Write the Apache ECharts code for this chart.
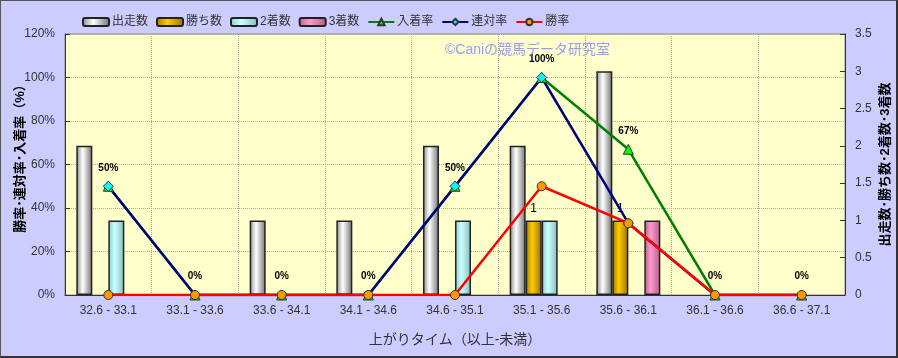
<!DOCTYPE html>
<html><head><meta charset="utf-8">
<script src="https://cdn.jsdelivr.net/npm/echarts@6/dist/echarts.min.js"></script>
<style>
html,body{margin:0;padding:0;background:#CCCCFF;}
#wrap{width:898px;height:358px;box-sizing:border-box;border:1px solid #555;border-right:2px solid #333;border-bottom:2px solid #333;background:#CCCCFF;}
#c{width:895px;height:355px;}
</style></head>
<body><div id="wrap"><div id="c"></div></div>
<script>
const categories = ['32.6 - 33.1','33.1 - 33.6','33.6 - 34.1','34.1 - 34.6','34.6 - 35.1','35.1 - 35.6','35.6 - 36.1','36.1 - 36.6','36.6 - 37.1'];
const starts   = [2,0,1,1,2,2,3,0,0];
const wins     = [0,0,0,0,0,1,1,0,0];
const seconds  = [1,0,0,0,1,1,0,0,0];
const thirds   = [0,0,0,0,0,0,1,0,0];
const placeRate = [50,0,0,0,50,100,67,0,0];
const quinRate  = [50,0,0,0,50,100,33,0,0];
const winRate   = [0,0,0,0,0,50,33,0,0];
const leftTicks = [0,20,40,60,80,100,120];
const rightTicks = [0,0.5,1,1.5,2,2.5,3,3.5];

const FONT = '"Liberation Sans","Noto Sans CJK JP",sans-serif';
function grad(a,b,c){
  return {type:'linear',x:0,y:0,x2:1,y2:0,colorStops:[{offset:0,color:a},{offset:0.4,color:b},{offset:1,color:c}]};
}
const chart = echarts.init(document.getElementById('c'));
const nz = arr => arr.map(v => v === 0 ? '-' : v);
function barSeries(name, data, color, label){
  return {
    name, type:'bar', yAxisIndex:1, data:nz(data), barWidth:16, barGap:'0%',
    itemStyle:{color, borderColor:'#222', borderWidth:1.5},
    label: label ? {show:true, position:'top', distance:6, color:'#000', fontSize:12, fontFamily:FONT} : {show:false},
    z:2
  };
}
function lineSeries(name, data, color, symbol, symColor, size, label){
  return {
    name, type:'line', yAxisIndex:0, data, symbol, symbolSize:size,
    lineStyle:{color, width:2.5},
    itemStyle:{color:symColor, borderColor:'#333', borderWidth:1},
    label: label ? {show:true, position:'top', distance:8, formatter:'{c}%', color:'#000', fontSize:10, fontWeight:'bold', fontFamily:FONT} : {show:false},
    z:5
  };
}
chart.setOption({
  animation:false,
  backgroundColor:'#CCCCFF',
  textStyle:{fontFamily:FONT},
  legend:{
    left:76, top:10, itemWidth:26, itemHeight:8, itemGap:8,
    textStyle:{fontSize:12, color:'#333', fontFamily:FONT, padding:[0,0,0,-2]}
  },
  graphic:[{type:'text', left:444, top:42, style:{text:'©Caniの競馬データ研究室', fill:'#9999FF', font:'14px '+FONT}, z:10}],
  grid:{left:64, right:51, top:33, bottom:61, containLabel:false, outerBoundsMode:'none', show:true, backgroundColor:'#FFFFCC', borderColor:'#888', borderWidth:1},
  xAxis:{
    type:'category', data:categories,
    name:'上がりタイム（以上-未満）', nameLocation:'middle', nameGap:38, nameMoveOverlap:false,
    nameTextStyle:{fontSize:14, color:'#333', fontFamily:FONT},
    axisLine:{lineStyle:{color:'#333'}},
    axisTick:{show:false},
    axisLabel:{fontSize:12, color:'#333', margin:10},
    splitLine:{show:true, lineStyle:{color:'#aaa', type:'dotted', width:1}}
  },
  yAxis:[{
    type:'value', min:0, max:120, interval:20, position:'left',
    name:'勝率･連対率･入着率（%）', nameLocation:'middle', nameGap:38, nameRotate:90, nameMoveOverlap:false,
    nameTextStyle:{fontSize:13, fontWeight:'bold', color:'#000', fontFamily:FONT, padding:[0,0,0,18]},
    axisLine:{show:true, lineStyle:{color:'#333'}},
    axisTick:{show:true, inside:true, length:5, lineStyle:{color:'#333'}},
    axisLabel:{formatter: v => leftTicks.includes(v) ? v+'%' : '', fontSize:12, color:'#333', margin:10},
    splitLine:{show:true, lineStyle:{color:'#aaa', type:'dotted'}}
  },{
    type:'value', min:0, max:3.5, interval:0.5, position:'right',
    name:'出走数･勝ち数･2着数･3着数', nameLocation:'middle', nameGap:34, nameRotate:90, nameMoveOverlap:false,
    nameTextStyle:{fontSize:13, fontWeight:'bold', color:'#000', fontFamily:FONT},
    axisLine:{show:true, lineStyle:{color:'#333'}},
    axisTick:{show:true, inside:true, length:5, lineStyle:{color:'#333'}},
    axisLabel:{formatter: v => rightTicks.includes(v) ? String(v) : '', fontSize:12, color:'#333', margin:10},
    splitLine:{show:false}
  }],
  series:[
    barSeries('出走数', starts, grad('#8a8a8a','#ffffff','#707070'), false),
    barSeries('勝ち数', wins, grad('#a07800','#ffcc00','#9a7000'), true),
    barSeries('2着数', seconds, grad('#88cccc','#ccffff','#80bcbc'), false),
    barSeries('3着数', thirds, grad('#c06090','#ff99cc','#b06088'), false),
    lineSeries('入着率', placeRate, '#008000', 'triangle', '#00ff00', 10, true),
    lineSeries('連対率', quinRate, '#000080', 'diamond', '#00ffff', 10, false),
    lineSeries('勝率', winRate, '#ff0000', 'circle', '#ff9900', 9, false)
  ]
});
</script></body></html>
